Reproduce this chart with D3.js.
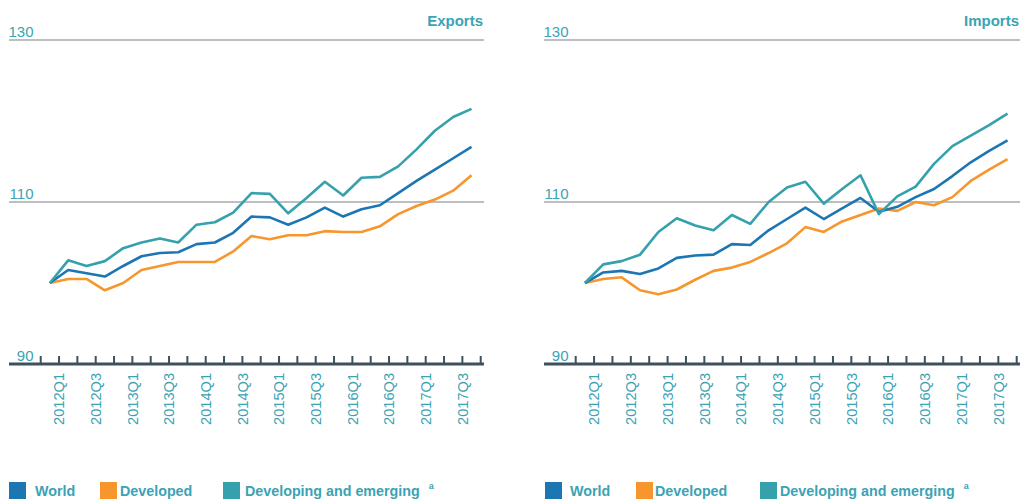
<!DOCTYPE html>
<html>
<head>
<meta charset="utf-8">
<script src="https://cdn.jsdelivr.net/npm/d3@7"></script>
<style>
  body { margin: 0; background: #fff; }
  svg { display: block; font-family: "Liberation Sans", Arial, sans-serif; }
</style>
</head>
<body>
<svg id="chart" width="1023" height="500"></svg>
<script>
// quarters shown on the x axis
var quarters = ["2012Q1","2012Q2","2012Q3","2012Q4","2013Q1","2013Q2","2013Q3","2013Q4",
                "2014Q1","2014Q2","2014Q3","2014Q4","2015Q1","2015Q2","2015Q3","2015Q4",
                "2016Q1","2016Q2","2016Q3","2016Q4","2017Q1","2017Q2","2017Q3","2017Q4"];
var tickLabels = ["2012Q1","2012Q3","2013Q1","2013Q3","2014Q1","2014Q3",
                  "2015Q1","2015Q3","2016Q1","2016Q3","2017Q1","2017Q3"];
var yTicks = [90, 110, 130];

var exportsWorld = [100, 101.6, 101.2, 100.8, 102.1, 103.3, 103.7, 103.8, 104.8, 105.0, 106.2, 108.2,
                    108.1, 107.2, 108.1, 109.3, 108.2, 109.1, 109.6, 111.1, 112.6, 114.0, 115.4, 116.8];
var exportsDeveloped = [100, 100.5, 100.5, 99.1, 100.0, 101.6, 102.1, 102.6, 102.6, 102.6, 103.9, 105.8,
                        105.4, 105.9, 105.9, 106.4, 106.3, 106.3, 107.0, 108.5, 109.5, 110.3, 111.4, 113.3];
var exportsDeveloping = [100, 102.8, 102.1, 102.7, 104.3, 105.0, 105.5, 105.0, 107.2, 107.5, 108.7, 111.1,
                         111.0, 108.6, 110.5, 112.5, 110.8, 113.0, 113.1, 114.4, 116.5, 118.8, 120.5, 121.5];

var importsWorld = [100, 101.3, 101.5, 101.1, 101.8, 103.1, 103.4, 103.5, 104.8, 104.7, 106.5, 107.9,
                    109.3, 107.9, 109.2, 110.5, 108.8, 109.4, 110.6, 111.6, 113.2, 114.9, 116.3, 117.6];
var importsDeveloped = [100, 100.5, 100.7, 99.1, 98.6, 99.2, 100.4, 101.5, 101.9, 102.6, 103.7, 104.9,
                        106.9, 106.3, 107.6, 108.4, 109.2, 108.9, 110.0, 109.6, 110.6, 112.6, 114.0, 115.3];
var importsDeveloping = [100, 102.3, 102.7, 103.5, 106.3, 108.0, 107.1, 106.5, 108.4, 107.3, 110.0, 111.8,
                         112.5, 109.8, 111.6, 113.3, 108.5, 110.7, 111.9, 114.7, 116.9, 118.2, 119.5, 120.9];

var seriesNames = ["World", "Developed", "Developing and emerging"];
var seriesColors = ["#1b76b3", "#f7962d", "#35a1ad"];
var textColor = "#3aa3b4";

var svg = d3.select("#chart");

function drawPanel(title, series, left, right) {
    var x = d3.scaleBand()
        .domain(quarters)
        .range([left + 31.7, right - 3.3])
        .paddingInner(0).paddingOuter(0);
    var y = d3.scaleLinear().domain([90, 130]).range([364, 40]);

    var g = svg.append("g");

    // gridlines
    g.selectAll(".grid")
        .data(yTicks.filter(function(d) { return d > 90; }))
        .enter().append("line")
        .attr("x1", left).attr("x2", right)
        .attr("y1", function(d) { return y(d); })
        .attr("y2", function(d) { return y(d); })
        .attr("stroke", "#a7a9ab")
        .attr("stroke-width", 1.5);

    // y labels
    g.selectAll(".ylab")
        .data(yTicks)
        .enter().append("text")
        .attr("x", left + 24.5)
        .attr("y", function(d) { return y(d) - 3; })
        .attr("text-anchor", "end")
        .attr("font-size", 15)
        .attr("fill", textColor)
        .text(function(d) { return d; });

    // title
    g.append("text")
        .attr("x", right - 1)
        .attr("y", 26)
        .attr("text-anchor", "end")
        .attr("font-size", 15)
        .attr("font-weight", "bold")
        .attr("fill", textColor)
        .text(title);

    // x axis base line
    g.append("line")
        .attr("x1", left).attr("x2", right)
        .attr("y1", y(90)).attr("y2", y(90))
        .attr("stroke", "#3d505d")
        .attr("stroke-width", 3);

    var edges = quarters.map(function(q) { return x(q); });
    edges.push(x(quarters[quarters.length - 1]) + x.bandwidth());
    g.selectAll(".tick")
        .data(edges)
        .enter().append("line")
        .attr("x1", function(d) { return d; })
        .attr("x2", function(d) { return d; })
        .attr("y1", y(90) - 8)
        .attr("y2", y(90))
        .attr("stroke", "#3d505d")
        .attr("stroke-width", 2);

    g.selectAll(".xlab")
        .data(tickLabels)
        .enter().append("text")
        .attr("transform", function(d) {
            return "translate(" + (x(d) + x.bandwidth()) + "," + 373 + ") rotate(-90)";
        })
        .attr("dy", "0.36em")
        .attr("text-anchor", "end")
        .attr("font-size", 14.6)
        .attr("fill", textColor)
        .text(function(d) { return d; });

    var line = d3.line()
        .x(function(d, i) { return x(quarters[i]) + x.bandwidth() / 2; })
        .y(function(d) { return y(d); });

    // draw developed, world, developing order so teal/blue sit on top
    [1, 0, 2].forEach(function(k) {
        g.append("path")
            .datum(series[k])
            .attr("d", line)
            .attr("fill", "none")
            .attr("stroke", seriesColors[k])
            .attr("stroke-width", 2.6)
            .attr("stroke-linejoin", "round");
    });
}

function drawLegend(offsets) {
    var g = svg.append("g");
    seriesNames.forEach(function(name, i) {
        g.append("rect")
            .attr("x", offsets[i][0]).attr("y", 482)
            .attr("width", 17).attr("height", 17)
            .attr("fill", seriesColors[i]);
        var t = g.append("text")
            .attr("x", offsets[i][1]).attr("y", 496)
            .attr("font-size", 14.3)
            .attr("font-weight", "bold")
            .attr("fill", textColor)
            .text(name);
        if (i == 2) {
            t.append("tspan")
                .attr("dx", 9)
                .attr("dy", -7)
                .attr("font-size", 9)
                .text("a");
        }
    });
}

drawPanel("Exports", [exportsWorld, exportsDeveloped, exportsDeveloping], 9, 484);
drawPanel("Imports", [importsWorld, importsDeveloped, importsDeveloping], 544, 1020);

drawLegend([[9, 35], [100, 120], [223, 245]]);
drawLegend([[545, 570], [636, 655], [760, 780]]);
</script>
</body>
</html>
